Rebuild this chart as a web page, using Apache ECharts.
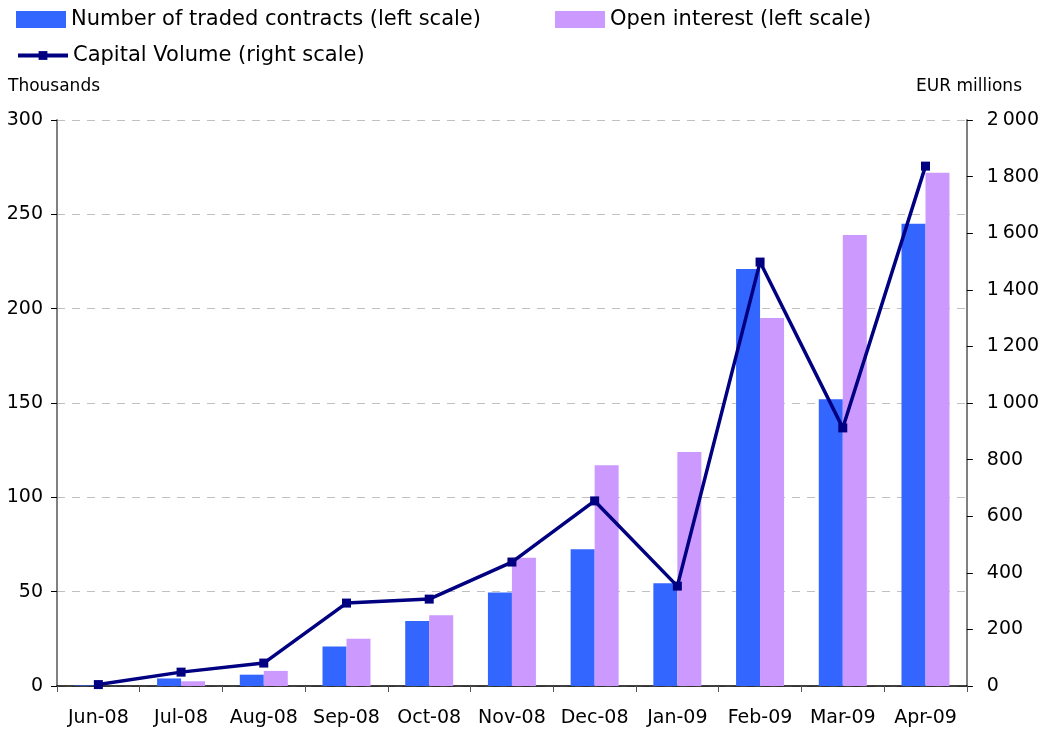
<!DOCTYPE html>
<html>
<head>
<meta charset="utf-8">
<script src="https://cdn.jsdelivr.net/npm/echarts@6/dist/echarts.min.js"></script>
<style>
  html, body { margin: 0; padding: 0; background: #fff; }
  #chart { width: 1042px; height: 733px; }
</style>
</head>
<body>
<div id="chart"></div>
<script>
// months on the x axis
var months = ['Jun-08', 'Jul-08', 'Aug-08', 'Sep-08', 'Oct-08', 'Nov-08',
              'Dec-08', 'Jan-09', 'Feb-09', 'Mar-09', 'Apr-09'];
// thousands, left scale
var tradedContracts = [0.3, 4, 6, 21, 34.5, 49.5, 72.5, 54.5, 221, 152, 245];
var openInterest = [0, 2.5, 8, 25, 37.5, 68, 117, 124, 195, 239, 272];
// EUR millions, right scale
var capitalVolume = [5, 49, 81, 293, 307, 438, 654, 353, 1498, 912, 1837];

var font = 'DejaVu Sans';

function spaced(v) {
  // 1 800 style, narrow space as thousands separator
  return String(v).replace(/\B(?=(\d{3})+(?!\d))/g, '\u2009');
}

var chart = echarts.init(document.getElementById('chart'));

var legendText = { fontFamily: font, fontSize: 21, color: '#000' };

var option = {
  backgroundColor: '#ffffff',
  animation: false,
  textStyle: { fontFamily: font },
  legend: [
    {
      left: 11, top: 4,
      icon: 'rect',
      itemWidth: 50, itemHeight: 17,
      textStyle: legendText,
      data: ['Number of traded contracts (left scale)']
    },
    {
      left: 550, top: 4,
      icon: 'rect',
      itemWidth: 50, itemHeight: 17,
      textStyle: legendText,
      data: ['Open interest (left scale)']
    },
    {
      left: 11, top: 40,
      itemWidth: 50, itemHeight: 11,
      lineStyle: { width: 4 },
      textStyle: legendText,
      data: ['Capital Volume (right scale)']
    }
  ],
  graphic: [
    { type: 'text', left: 8, top: 78, style: { text: 'Thousands', font: '17px ' + font, fill: '#000' } },
    { type: 'text', right: 20, top: 78, style: { text: 'EUR millions', font: '17px ' + font, fill: '#000' } }
  ],
  grid: { left: 57, right: 75, top: 120, bottom: 47 },
  xAxis: {
    type: 'category',
    data: months,
    axisLine: { lineStyle: { color: '#000', width: 1.5 } },
    axisTick: { show: true, length: 6, lineStyle: { color: '#555' } },
    axisLabel: { fontFamily: font, fontSize: 19, color: '#000', margin: 23, interval: 0 }
  },
  yAxis: [
    {
      type: 'value', min: 0, max: 300, interval: 50,
      axisLine: { show: true, lineStyle: { color: '#808080', width: 2 } },
      axisTick: { show: true, length: 6, lineStyle: { color: '#000' } },
      axisLabel: { fontFamily: font, fontSize: 19, color: '#000', margin: 14 },
      splitLine: { show: true, lineStyle: { color: '#c0c0c0', type: [8, 7] } }
    },
    {
      type: 'value', min: 0, max: 2000, interval: 200,
      position: 'right',
      axisLine: { show: true, lineStyle: { color: '#808080', width: 2 } },
      axisTick: { show: true, length: 6, lineStyle: { color: '#000' } },
      axisLabel: {
        fontFamily: font, fontSize: 19, color: '#000', margin: 20,
        formatter: function (v) { return spaced(v); }
      },
      splitLine: { show: false }
    }
  ],
  series: [
    {
      name: 'Number of traded contracts (left scale)',
      type: 'bar',
      barWidth: 24,
      barGap: '0%',
      itemStyle: { color: '#3366FF' },
      data: tradedContracts
    },
    {
      name: 'Open interest (left scale)',
      type: 'bar',
      barWidth: 24,
      barGap: '0%',
      itemStyle: { color: '#CC99FF' },
      data: openInterest
    },
    {
      name: 'Capital Volume (right scale)',
      type: 'line',
      yAxisIndex: 1,
      symbol: 'rect',
      symbolSize: 9,
      lineStyle: { color: '#000080', width: 3.5 },
      itemStyle: { color: '#000080' },
      data: capitalVolume
    }
  ]
};

chart.setOption(option);
</script>
</body>
</html>
